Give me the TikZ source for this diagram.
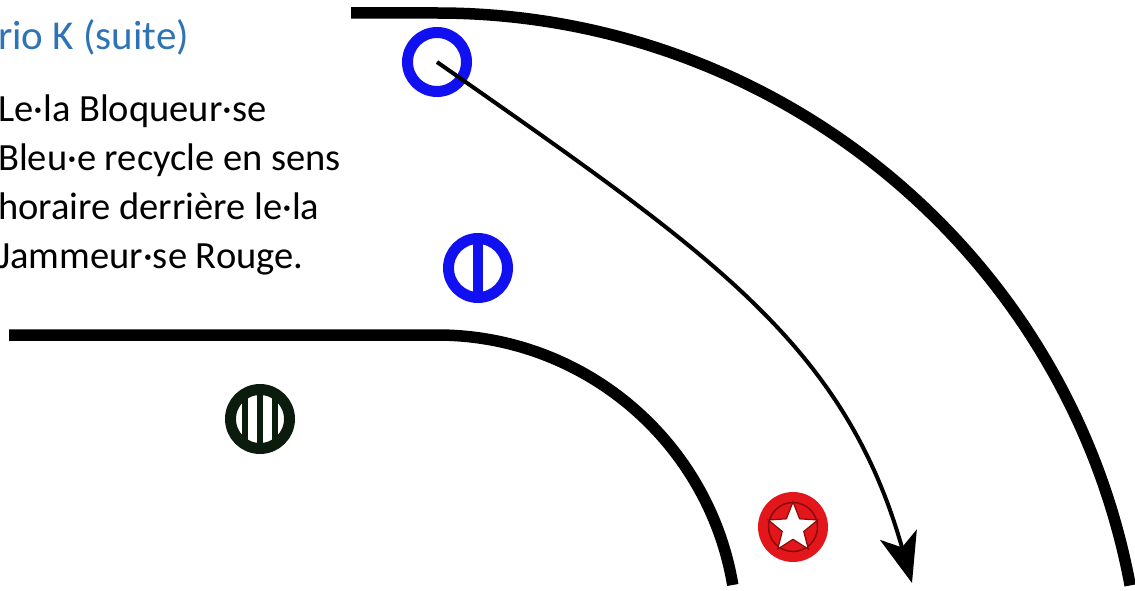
\documentclass[tikz,border=0pt]{standalone}
\usepackage{fontspec}
\setmainfont{Carlito}
\usetikzlibrary{arrows.meta,shapes.geometric}
\definecolor{titleblue}{HTML}{2E74B5}
\definecolor{blockblue}{HTML}{1010F0}
\definecolor{jamred}{HTML}{E3161B}
\definecolor{jamdark}{HTML}{8A0A0A}
\definecolor{pivotdark}{HTML}{0B1C0E}

\begin{document}
\begin{tikzpicture}[
    x=1pt, y=1pt,
    track/.style={line width=11.5},
    ring/.style={circle, inner sep=0pt, minimum size=59, line width=11, fill=white},
    bodytext/.style={font=\fontsize{38.5}{46}\selectfont, anchor=base west, inner sep=0pt},
]
\useasboundingbox (0,0) rectangle (1135,-591);

% Title and text
\node[font=\fontsize{41}{48}\selectfont, text=titleblue, anchor=base west, inner sep=0pt] (title) at (-2,-50) {rio K (suite)};
\foreach \line/\ypos [count=\i] in {
  {Le·la Bloqueur·se}/122,
  {Bleu·e recycle en sens}/171,
  {horaire derrière le·la}/219,
  {Jammeur·se Rouge.}/268
}{
  \node[bodytext] (line\i) at (-2,-\ypos) {\line};
}

% Track lines
\draw[track] (351,-13) -- (437,-13) arc[start angle=90, end angle=10.5, x radius=705, y radius=700];
\draw[track] (9,-335) -- (437,-335) arc[start angle=90, end angle=9.6, radius=300];

% Skaters
\node[ring, draw=blockblue] (bluering) at (437,-62) {};
\node[ring, draw=blockblue, path picture={
    \fill[blockblue] ([xshift=-5]path picture bounding box.north) rectangle ([xshift=5]path picture bounding box.south);
  }] (bluepivot) at (478,-268) {};
\node[ring, draw=pivotdark, path picture={
    \foreach \dx in {-15,0,15}
      \fill[pivotdark] ([xshift=\dx-3]path picture bounding box.north) rectangle ([xshift=\dx+3]path picture bounding box.south);
  }] (darkpivot) at (260,-419) {};
\node[circle, inner sep=0pt, minimum size=70, fill=jamred, path picture={
    \draw[jamdark, line width=1.5] (path picture bounding box.center) circle[radius=24.5];
  }] (redjammer) at (793,-527) {};
\node[star, star points=5, star point ratio=2.3, minimum size=52, inner sep=0pt,
      fill=white, draw=jamdark, line width=1.2] (redstar) at (793,-528) {};

% Recycle path
\coordinate (tip) at (912,-583);
\draw[-{Stealth[length=50pt, width=38pt, inset=13pt]}, line width=4] (bluering.center) .. controls (707,-251) and (844,-342) .. (tip);

\end{tikzpicture}
\end{document}
